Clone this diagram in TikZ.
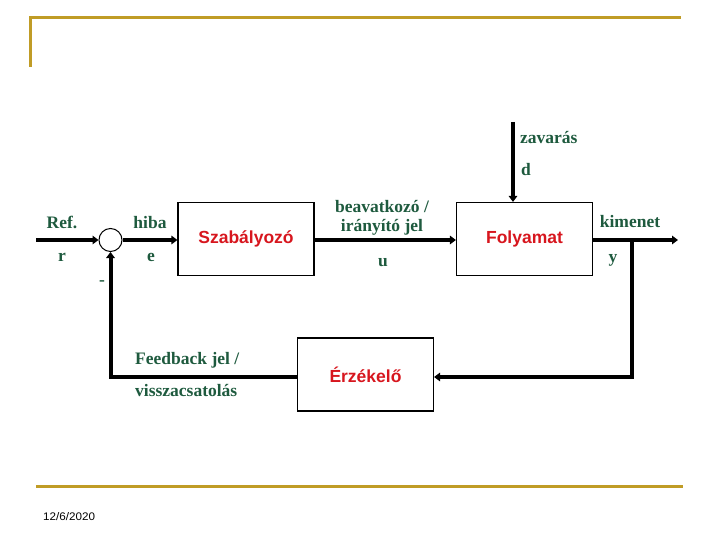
\documentclass[tikz,border=0pt]{standalone}
\usepackage{fontspec}
\usepackage{graphicx}
\setmainfont{Liberation Serif}
\newfontfamily\arialf{Liberation Sans}
\usetikzlibrary{arrows.meta}
\definecolor{lblgreen}{RGB}{30,90,62}
\definecolor{blkred}{RGB}{215,22,30}
\definecolor{goldline}{RGB}{192,156,38}
\tikzset{
  lbl/.style={text=lblgreen, font=\bfseries\fontsize{17.5}{20}\selectfont, inner sep=0pt, anchor=base},
  blk/.style={draw=black, line width=1.2pt, minimum width=136pt, minimum height=73pt, inner sep=0pt,
              text=blkred, font=\arialf\bfseries\fontsize{17.5}{20}\selectfont},
  sig/.style={line width=4pt, draw=black},
  arr/.style={sig, -{Triangle[length=6pt,width=8.5pt]}},
  gold/.style={line width=3pt, draw=goldline}
}
\begin{document}
\begin{tikzpicture}[x=1pt,y=-1pt]
\useasboundingbox (0,0) rectangle (720,540);
% decorative slide lines
\draw[gold] (30,67) -- (30,18) -- (681,18);
\draw[gold] (36,486) -- (683,486);
\node[anchor=base west, inner sep=0pt, font=\arialf\fontsize{11}{11}\selectfont] (date) at (43,520) {\scalebox{1.06}[1]{12/6/2020}};

% blocks
\node[circle, draw=black, line width=1pt, minimum size=23pt, inner sep=0pt] (sum) at (110.5,240) {};
\node[blk] (szab) at (246,239) {Szabályozó};
\node[blk] (foly) at (524.5,239) {Folyamat};
\node[blk] (erz) at (365.5,374.5) {Érzékelő};

% coordinates
\coordinate (in) at (36,240);
\coordinate (out) at (678,240);
\coordinate (br) at (632,240);
\coordinate (brd) at (632,377);
\coordinate (fbl) at (110.5,377);
\coordinate (dist) at (513,122);

% connectors
\draw[arr] (in) -- (sum.west);
\draw[arr] (sum.east) -- (sum.east -| szab.west);
\draw[arr] (sum.east -| szab.east) -- (sum.east -| foly.west);
\draw[arr] (out -| foly.east) -- (out);
\draw[arr] (br) -- (brd) -- (brd -| erz.east);
\draw[arr] (fbl -| erz.west) -- (fbl) -- (sum.south);
\draw[arr] (dist) -- (dist |- foly.north);

% labels
\node[lbl] (ref) at (62,229) {Ref.};
\node[lbl] (r) at (62,261) {r};
\node[lbl] (hiba) at (150,229) {hiba};
\node[lbl] (e) at (151,261) {e};
\node[lbl] (minus) at (102,285) {-};
\node[lbl] (beav) at (382,212) {beavatkozó /};
\node[lbl] (iranyito) at (382,232) {irányító jel};
\node[lbl] (u) at (383,266) {u};
\node[lbl, anchor=base west] (zav) at (520,144) {zavarás};
\node[lbl, anchor=base west] (d) at (521,176) {d};
\node[lbl] (kim) at (630,228) {kimenet};
\node[lbl] (y) at (613,262) {y};
\node[lbl, anchor=base west] (fb1) at (135,364) {Feedback jel /};
\node[lbl, anchor=base west] (fb2) at (135,396) {visszacsatolás};
\end{tikzpicture}
\end{document}
